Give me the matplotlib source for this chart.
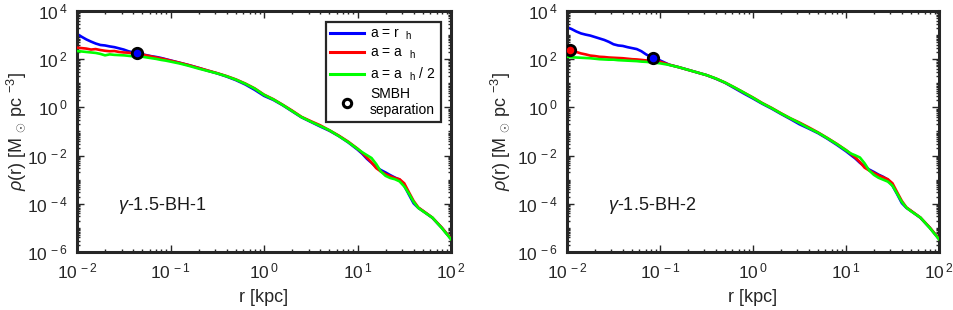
import numpy as np
import matplotlib
matplotlib.use("Agg")
import matplotlib.pyplot as plt
from matplotlib.ticker import FixedLocator, LogLocator, NullFormatter, FixedFormatter
from matplotlib.lines import Line2D

plt.rcParams['font.family'] = ['Liberation Sans', 'DejaVu Sans']
plt.rcParams['mathtext.fontset'] = 'custom'
plt.rcParams['mathtext.rm'] = 'Liberation Sans'
plt.rcParams['mathtext.it'] = 'Liberation Sans:italic'
plt.rcParams['mathtext.bf'] = 'Liberation Sans:bold'

# ---------------- data (log10 r [kpc], log10 rho [Msun/pc^3]) ----------------
logr = [-2.0, -1.95, -1.9, -1.85, -1.8, -1.75, -1.7, -1.65, -1.6, -1.55, -1.5,
        -1.45, -1.4, -1.35, -1.3, -1.25, -1.2, -1.15, -1.1, -1.05, -1.0,
        -0.9, -0.8, -0.7, -0.6, -0.5, -0.4, -0.3, -0.2, -0.1, 0.0,
        0.1, 0.2, 0.3, 0.4, 0.5, 0.6, 0.7, 0.8, 0.9, 1.0, 1.05, 1.1, 1.15,
        1.2, 1.25, 1.3, 1.35, 1.4, 1.45, 1.5, 1.55, 1.6, 1.65, 1.7, 1.8, 1.9, 2.0]

# Panel 1: gamma-1.5-BH-1
p1_blue = [3.05, 2.93, 2.82, 2.73, 2.65, 2.59, 2.57, 2.53, 2.50, 2.45, 2.40,
           2.33, 2.28, 2.23, 2.20, 2.16, 2.12, 2.09, 2.05, 2.00, 1.95,
           1.85, 1.75, 1.64, 1.52, 1.41, 1.28, 1.13, 0.95, 0.73, 0.48,
           0.31, 0.09, -0.16, -0.41, -0.60, -0.79, -0.97, -1.19, -1.45, -1.75, -1.92, -2.13, -2.30,
           -2.48, -2.60, -2.70, -2.81, -2.91, -3.00, -3.25, -3.62, -3.98, -4.17, -4.30, -4.58, -4.99, -5.46]
p1_red = [2.48, 2.46, 2.44, 2.40, 2.42, 2.38, 2.35, 2.33, 2.34, 2.30, 2.28,
          2.27, 2.24, 2.22, 2.19, 2.15, 2.11, 2.07, 2.03, 1.99, 1.94,
          1.85, 1.75, 1.64, 1.53, 1.42, 1.30, 1.16, 0.99, 0.79, 0.53,
          0.34, 0.11, -0.13, -0.39, -0.57, -0.74, -0.95, -1.17, -1.42, -1.71, -1.88, -2.08, -2.28,
          -2.52, -2.66, -2.77, -2.85, -2.93, -2.98, -3.15, -3.52, -3.88, -4.15, -4.29, -4.57, -4.98, -5.45]
p1_green = [2.34, 2.32, 2.30, 2.28, 2.26, 2.22, 2.16, 2.20, 2.18, 2.17, 2.16,
            2.14, 2.12, 2.11, 2.10, 2.07, 2.04, 2.01, 1.97, 1.94, 1.90,
            1.82, 1.72, 1.61, 1.51, 1.41, 1.29, 1.15, 0.98, 0.78, 0.52,
            0.33, 0.10, -0.15, -0.40, -0.59, -0.77, -0.95, -1.19, -1.44, -1.72, -1.86, -1.98, -2.10,
            -2.35, -2.66, -2.84, -2.93, -2.98, -3.07, -3.28, -3.58, -3.92, -4.17, -4.31, -4.57, -5.00, -5.47]

# Panel 2: gamma-1.5-BH-2
p2_blue = [3.33, 3.25, 3.15, 3.07, 3.02, 2.98, 2.92, 2.86, 2.80, 2.72, 2.62,
           2.57, 2.55, 2.50, 2.46, 2.42, 2.33, 2.20, 2.10, 2.02, 1.95,
           1.77, 1.67, 1.56, 1.45, 1.34, 1.19, 1.02, 0.80, 0.58, 0.37,
           0.15, -0.05, -0.27, -0.48, -0.70, -0.88, -1.07, -1.30, -1.55, -1.82, -1.97, -2.12, -2.30,
           -2.45, -2.58, -2.68, -2.79, -2.88, -3.00, -3.25, -3.60, -3.97, -4.17, -4.30, -4.58, -4.99, -5.46]
p2_red = [2.40, 2.34, 2.30, 2.24, 2.20, 2.15, 2.13, 2.10, 2.09, 2.07, 2.06,
          2.05, 2.04, 2.02, 2.00, 1.99, 1.97, 1.95, 1.94, 1.92, 1.90,
          1.77, 1.67, 1.56, 1.45, 1.34, 1.20, 1.03, 0.83, 0.62, 0.41,
          0.18, -0.02, -0.24, -0.45, -0.63, -0.83, -1.04, -1.27, -1.51, -1.77, -1.92, -2.08, -2.27,
          -2.50, -2.62, -2.72, -2.82, -2.90, -2.98, -3.15, -3.52, -3.88, -4.15, -4.29, -4.57, -4.98, -5.45]
p2_green = [2.10, 2.08, 2.07, 2.06, 2.05, 2.04, 2.02, 2.00, 1.99, 1.98, 1.98,
            1.96, 1.95, 1.94, 1.93, 1.92, 1.90, 1.89, 1.87, 1.85, 1.83,
            1.76, 1.67, 1.56, 1.45, 1.34, 1.20, 1.03, 0.83, 0.62, 0.40,
            0.17, -0.03, -0.25, -0.45, -0.65, -0.86, -1.05, -1.28, -1.52, -1.78, -1.91, -1.99, -2.08,
            -2.32, -2.62, -2.80, -2.92, -3.00, -3.08, -3.25, -3.58, -3.92, -4.16, -4.31, -4.57, -5.00, -5.47]

# SMBH separation markers: (log r, log rho, colour)
p1_markers = [(-1.36, 2.24, 'blue')]
p2_markers = [(-1.97, 2.38, 'red'), (-1.07, 2.04, 'blue')]

panel_labels = [r'$\gamma$-1.5-BH-1', r'$\gamma$-1.5-BH-2']
legend_labels = [r'a = r  $_{\rm h}$', r'a = a  $_{\rm h}$', r'a = a  $_{\rm h}$ / 2', 'SMBH\nseparation']

xticks = [1e-2, 1e-1, 1e0, 1e1, 1e2]
xticklabels = [r'$10^{\,-2}$', r'$10^{\,-1}$', r'$10^{\,0}$', r'$10^{\,1}$', r'$10^{\,2}$']
yticks = [1e-6, 1e-4, 1e-2, 1e0, 1e2, 1e4]
yticklabels = [r'$10^{\,-6}$', r'$10^{\,-4}$', r'$10^{\,-2}$', r'$10^{\,0}$', r'$10^{\,2}$', r'$10^{\,4}$']

# ---------------- figure ----------------
W, H = 954, 310
fig = plt.figure(figsize=(W / 100, H / 100), dpi=100)
axes_px = [(77, 11, 374, 241), (567, 11, 372, 241)]
ylabel_right_px = [28, 512]

r = 10 ** np.array(logr)
panels = [(p1_blue, p1_red, p1_green, p1_markers), (p2_blue, p2_red, p2_green, p2_markers)]

for i, ((b, rd, g, mk), (x0, y0, w, h)) in enumerate(zip(panels, axes_px)):
    ax = fig.add_axes([x0 / W, 1 - (y0 + h) / H, w / W, h / H])
    ax.plot(r, 10 ** np.array(b), color=(0, 0, 1), lw=1.9, zorder=2)
    ax.plot(r, 10 ** np.array(rd), color=(1, 0, 0), lw=1.9, zorder=3)
    ax.plot(r, 10 ** np.array(g), color=(0, 1, 0), lw=1.9, zorder=4)
    for (lx, ly, c) in mk:
        ax.plot([10 ** lx], [10 ** ly], 'o', ms=7.5, mfc=c, mec='black', mew=2.0, zorder=6)
    ax.set_xscale('log')
    ax.set_yscale('log')
    ax.set_xlim(1e-2, 1e2)
    ax.set_ylim(1e-6, 1e4)
    ax.xaxis.set_major_locator(FixedLocator(xticks))
    ax.xaxis.set_major_formatter(FixedFormatter(xticklabels))
    ax.xaxis.set_minor_locator(LogLocator(base=10, subs=np.arange(2, 10)))
    ax.xaxis.set_minor_formatter(NullFormatter())
    ax.yaxis.set_major_locator(FixedLocator(yticks))
    ax.yaxis.set_major_formatter(FixedFormatter(yticklabels))
    ax.yaxis.set_minor_locator(LogLocator(base=10, subs=np.arange(1, 10), numticks=30))
    ax.yaxis.set_minor_formatter(NullFormatter())
    ax.tick_params(which='both', direction='in', top=True, right=True, colors='#262626',
                   labelsize=12.5, width=1.0)
    ax.tick_params(which='major', length=5, pad=7)
    ax.tick_params(which='minor', length=2.5)
    for s in ax.spines.values():
        s.set_linewidth(2.2)
        s.set_color('#262626')
    ax.set_xlabel('r [kpc]', fontsize=13, color='#262626')
    ax.set_ylabel(r'$\rho$(r) [M $_{\odot}$ pc $^{-3}$]', fontsize=13, color='#262626')
    ax.xaxis.set_label_coords(0.5, -(289 - (y0 + h)) / h)
    ax.yaxis.set_label_coords(-(x0 - ylabel_right_px[i]) / w, 0.5)
    ax.text(0.11, 0.195, panel_labels[i], transform=ax.transAxes, fontsize=13,
            color='#1a1a1a', va='center', ha='left')
    if i == 0:
        handles = [Line2D([], [], color=(0, 0, 1), lw=2.2),
                   Line2D([], [], color=(1, 0, 0), lw=2.2),
                   Line2D([], [], color=(0, 1, 0), lw=2.2),
                   Line2D([], [], ls='none', marker='o', ms=6, mfc='white', mec='black', mew=2.2)]
        leg = ax.legend(handles, legend_labels, loc='upper right', bbox_to_anchor=(0.972, 0.956),
                        fontsize=10, frameon=True, fancybox=False, framealpha=1,
                        edgecolor='#262626', handlelength=2.4, handletextpad=0.45,
                        labelspacing=0.3, borderpad=0.35, borderaxespad=0)
        leg.get_frame().set_linewidth(1.6)

fig.savefig('out.png', dpi=100)
